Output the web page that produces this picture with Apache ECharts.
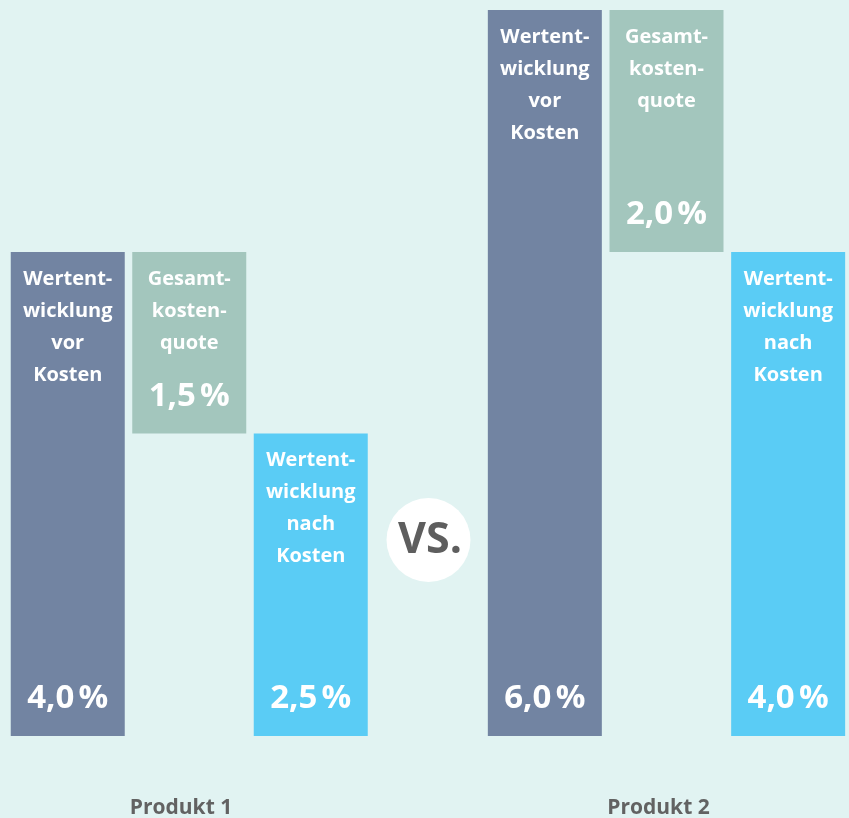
<!DOCTYPE html>
<html>
<head>
<meta charset="utf-8">
<script src="https://cdn.jsdelivr.net/npm/echarts@6/dist/echarts.min.js"></script>
<style>
html,body{margin:0;padding:0;background:#E1F3F2;}
#chart{width:849px;height:818px;}
</style>
</head>
<body>
<div id="chart"></div>
<script>
// ---- data ----
const productNames = ['Produkt 1', 'Produkt 2'];
const barLabels = ['Wertent-\nwicklung\nvor\nKosten', 'Gesamt-\nkosten-\nquote', 'Wertent-\nwicklung\nnach\nKosten'];
const categories = ['Wertentwicklung vor Kosten', 'Gesamtkostenquote', 'Wertentwicklung nach Kosten'];
const produkt1 = [4.0, 1.5, 2.5];   // vor Kosten, Kostenquote, nach Kosten
const produkt2 = [6.0, 2.0, 4.0];
const vsText = 'VS.';

// ---- style ----
const colors = ['#7284A2', '#A3C6BD', '#5ACCF5'];
const FONT = "'Open Sans', sans-serif";

function fmt(v) { return v.toFixed(1).replace('.', ',') + '\u202F%'; }

function seriesFor(vals, gi) {
  // floating base for the cost bar: sits on top of the "nach Kosten" value
  const base = [0, vals[2], 0];
  const common = { type: 'bar', xAxisIndex: gi, yAxisIndex: gi, barWidth: 114, barGap: '-100%', silent: true };
  return [
    Object.assign({}, common, { stack: 'm' + gi, data: base, itemStyle: { color: 'transparent' } }),
    Object.assign({}, common, {
      stack: 'm' + gi,
      data: vals.map((v, i) => ({ value: v, itemStyle: { color: colors[i] } })),
      label: {
        show: true, position: 'insideTop', distance: 11,
        formatter: p => barLabels[p.dataIndex],
        color: '#fff', fontFamily: FONT, fontWeight: 'bold', fontSize: 20, lineHeight: 32, align: 'center'
      }
    }),
    Object.assign({}, common, { stack: 'v' + gi, data: base, itemStyle: { color: 'transparent' } }),
    Object.assign({}, common, {
      stack: 'v' + gi,
      data: vals,
      itemStyle: { color: 'transparent' },
      label: {
        show: true, position: 'insideBottom', distance: 18,
        formatter: p => fmt(p.value),
        color: '#fff', fontFamily: FONT, fontWeight: 'bold', fontSize: 33, lineHeight: 38
      }
    })
  ];
}

const chart = echarts.init(document.getElementById('chart'), null, { renderer: 'canvas' });
chart.setOption({
  backgroundColor: '#E1F3F2',
  animation: false,
  grid: [
    { left: 7, width: 364.5, top: 10, bottom: 82 },
    { left: 484, width: 365, top: 10, bottom: 82 }
  ],
  xAxis: [0, 1].map(i => ({ type: 'category', gridIndex: i, data: categories, show: false })),
  yAxis: [0, 1].map(i => ({ type: 'value', gridIndex: i, min: 0, max: 6, show: false })),
  series: [].concat(seriesFor(produkt1, 0), seriesFor(produkt2, 1)),
  graphic: [
    { type: 'circle', shape: { cx: 428.5, cy: 540, r: 42 }, style: { fill: '#ffffff' }, silent: true },
    { type: 'text', x: 430, y: 541, style: { text: vsText, fill: '#5E5E5E', font: "bold 43px " + FONT, textAlign: 'center', textVerticalAlign: 'middle' }, silent: true },
    { type: 'text', x: 181, y: 808, style: { text: productNames[0], fill: '#626262', font: "bold 21px " + FONT, textAlign: 'center', textVerticalAlign: 'middle' }, silent: true },
    { type: 'text', x: 658.5, y: 808, style: { text: productNames[1], fill: '#626262', font: "bold 21px " + FONT, textAlign: 'center', textVerticalAlign: 'middle' }, silent: true }
  ]
});
</script>
</body>
</html>
